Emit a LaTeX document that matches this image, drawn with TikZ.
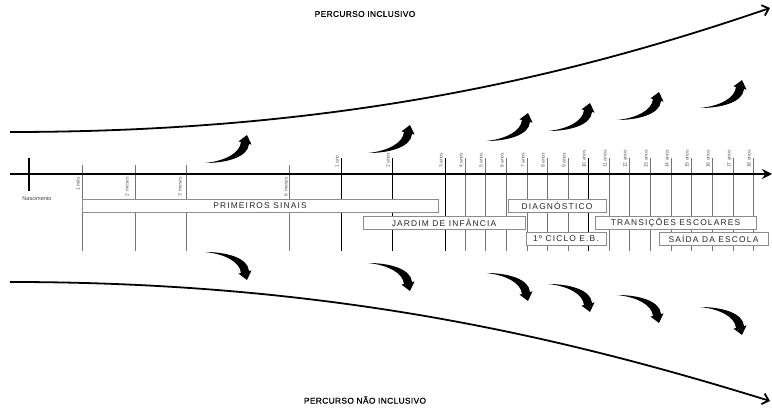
\documentclass[tikz,border=0pt]{standalone}
\usepackage{fontspec}
\setmainfont{Liberation Sans}
\newfontfamily\boxfont[LetterSpace=14]{Liberation Sans}
\newfontfamily\titlefont[FakeBold=0.6,LetterSpace=4]{Liberation Sans}
\usetikzlibrary{arrows.meta}
\begin{document}
\begin{tikzpicture}[x=1pt,y=-1pt,
  vline/.style={draw=black!55, line width=0.8pt},
  vdark/.style={draw=black, line width=0.9pt},
  tlabel/.style={font=\fontsize{5}{5.5}\selectfont, text=black!65, inner sep=0pt, rotate=90},
  phase/.style={draw=black!45, line width=0.6pt, fill=white, minimum height=13pt, inner sep=0pt, font=\boxfont\fontsize{8.4}{9}\selectfont, text=black!85},
  titletext/.style={font=\titlefont\fontsize{8.4}{10}\selectfont, inner sep=0pt},
  pathcurve/.style={line width=1.8pt, -{Straight Barb[length=6pt,width=11pt]}},
  swoosh/.pic={\fill[black] (0,0) .. controls (22,0) and (43,6) .. (44,19) -- (46.5,18.4) -- (42,28) -- (33.5,21.6) -- (36,21) .. controls (35,10) and (20,2) .. (0,0) -- cycle;}
]
\useasboundingbox (0,0) rectangle (772,411);

% month lines
\foreach \n/\x/\lx/\txt in {m1/82/78/1 mês, m2/135/127/2 meses, m3/186/180/3 meses, m6/289/286/6 meses}{
  \coordinate (\n T) at (\x,165);
  \coordinate (\n B) at (\x,251);
  \draw[vline] (\n T) -- (\n B);
  \node[tlabel, anchor=east] (\n L) at (\lx,177) {\txt};
}
% year lines
\foreach \n/\x in {1/341,2/392,3/445,4/465,5/485,6/506,7/527,8/547,9/568,10/588,11/609,12/629,13/650,14/671,15/691,16/712,17/733,18/753}{
  \coordinate (y\n T) at (\x,158);
  \coordinate (y\n B) at (\x,251);
  \ifnum\n=1 \def\yt{1 ano}\else \edef\yt{\n\space anos}\fi
  \ifnum\n=1 \draw[vdark] (y\n T) -- (y\n B);
  \else\ifnum\n=2 \draw[vdark] (y\n T) -- (y\n B);
  \else\ifnum\n=3 \draw[vdark] (y\n T) -- (y\n B);
  \else\ifnum\n=10 \draw[vdark] (y\n T) -- (y\n B);
  \else \draw[vline] (y\n T) -- (y\n B);
  \fi\fi\fi\fi
  \node[tlabel, anchor=west] (y\n L) at (\x-4,168) {\yt};
}

% main axis
\coordinate (axisL) at (10,174);
\coordinate (axisR) at (772,174);
\draw[line width=2pt, -{Stealth[length=10pt,width=10pt]}] (axisL) -- (axisR);
% birth tick
\coordinate (birthT) at (29,158);
\coordinate (birthB) at (29,191);
\draw[line width=2.4pt] (birthT) -- (birthB);
\node[font=\fontsize{5.5}{6}\selectfont, text=black!75, inner sep=0pt] (birth) at (37,199) {Nascimento};

% phase boxes
\node[phase, minimum width=356pt] (ps) at (260,205.5) {PRIMEIROS SINAIS};
\node[phase, minimum width=162pt] (ji) at (444,222.5) {JARDIM DE INFÂNCIA};
\node[phase, minimum width=98pt] (dg) at (557,205.5) {DIAGNÓSTICO};
\node[phase, minimum width=161pt] (te) at (675.5,222.5) {TRANSIÇÕES ESCOLARES};
\node[phase, minimum width=80pt] (ce) at (566,238.5) {1º CICLO E.B.};
\node[phase, minimum width=109pt] (se) at (713.5,238.5) {SAÍDA DA ESCOLA};

% titles
\node[titletext] (tin) at (365,14) {PERCURSO INCLUSIVO};
\node[titletext] (tnin) at (365,400) {PERCURSO NÃO INCLUSIVO};

% path curves
\coordinate (topS) at (10,132);
\coordinate (topE) at (770,8);
\coordinate (botS) at (10,282);
\coordinate (botE) at (770,401);
\draw[pathcurve] (topS) .. controls (330,132) and (560,80) .. (topE);
\draw[pathcurve] (botS) .. controls (330,282) and (560,336) .. (botE);

% swoosh arrows up
\foreach \x/\y in {205/163, 368/153, 486/141, 548/131, 617/120, 700/108}{
  \pic[yscale=-1] at (\x,\y) {swoosh};
}
% swoosh arrows down
\foreach \x/\y in {205/252, 368/263, 486/273, 548/284, 617/295, 700/307}{
  \pic at (\x,\y) {swoosh};
}
\end{tikzpicture}
\end{document}
